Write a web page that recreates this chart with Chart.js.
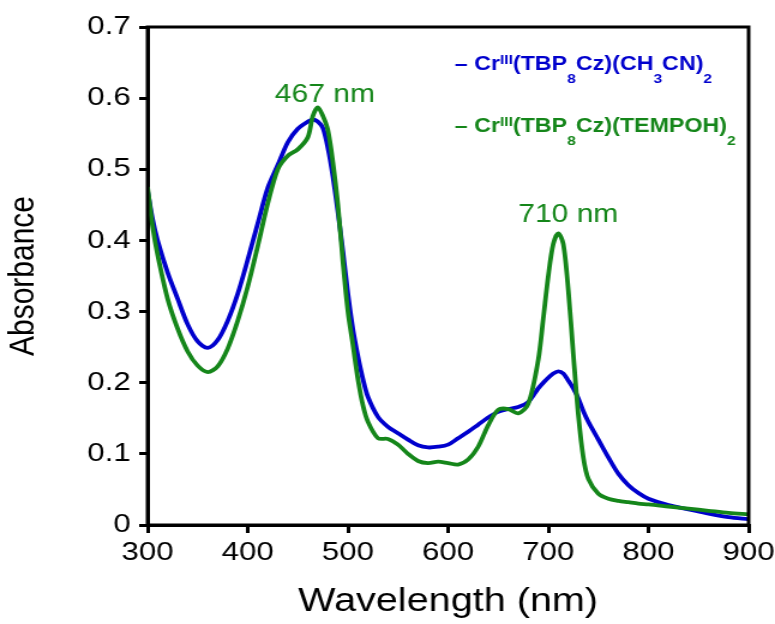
<!DOCTYPE html>
<html>
<head>
<meta charset="utf-8">
<script src="https://cdn.jsdelivr.net/npm/chart.js@4"></script>
<style>
  html, body { margin: 0; padding: 0; background: #fff; }
  /* the original figure is a bit wider than tall in its lettering, so the
     canvas is drawn narrower and stretched to the full width */
  #chart { width: 775px; height: 624px; display: block; }
</style>
</head>
<body>
<canvas id="chart" width="646" height="624" style="width:775px;height:624px"></canvas>
<script>
// wavelength (nm) shared by both spectra
const wavelength = [300, 305, 310, 320, 330, 340, 350, 360, 370, 380, 390, 400, 410, 420, 430, 440, 450, 460, 465, 470, 475, 480, 485, 490, 495, 500, 505, 510, 515, 520, 530, 540, 550, 560, 570, 580, 590, 600, 610, 620, 630, 640, 650, 660, 670, 680, 690, 695, 700, 705, 710, 715, 720, 725, 730, 735, 740, 750, 760, 770, 780, 790, 800, 820, 840, 860, 880, 900];

// Cr(III)(TBP8Cz)(CH3CN)2
const absCH3CN = [0.470, 0.430, 0.400, 0.355, 0.318, 0.282, 0.258, 0.249, 0.260, 0.287, 0.325, 0.373, 0.424, 0.474, 0.506, 0.538, 0.557, 0.567, 0.570, 0.567, 0.558, 0.530, 0.490, 0.440, 0.385, 0.325, 0.275, 0.237, 0.205, 0.180, 0.152, 0.138, 0.129, 0.120, 0.112, 0.109, 0.110, 0.113, 0.122, 0.131, 0.141, 0.151, 0.159, 0.163, 0.166, 0.173, 0.192, 0.200, 0.207, 0.213, 0.216, 0.213, 0.203, 0.192, 0.178, 0.160, 0.145, 0.120, 0.095, 0.072, 0.056, 0.045, 0.037, 0.028, 0.022, 0.016, 0.011, 0.008];

// Cr(III)(TBP8Cz)(TEMPOH)2
const absTEMPOH = [0.475, 0.420, 0.380, 0.318, 0.276, 0.244, 0.224, 0.215, 0.223, 0.248, 0.287, 0.335, 0.392, 0.452, 0.500, 0.519, 0.528, 0.545, 0.575, 0.587, 0.575, 0.555, 0.510, 0.450, 0.370, 0.300, 0.253, 0.205, 0.168, 0.145, 0.122, 0.121, 0.113, 0.100, 0.090, 0.087, 0.089, 0.087, 0.085, 0.092, 0.110, 0.140, 0.162, 0.163, 0.157, 0.170, 0.232, 0.290, 0.350, 0.395, 0.410, 0.395, 0.330, 0.240, 0.155, 0.095, 0.065, 0.044, 0.037, 0.034, 0.032, 0.030, 0.029, 0.026, 0.023, 0.020, 0.017, 0.015];

const yTicks = [0, 0.1, 0.2, 0.3, 0.4, 0.5, 0.6, 0.7];
const xTicks = [300, 400, 500, 600, 700, 800, 900];
const peakLabels = [{ x: 477, y: 0.595, text: "467 nm" }, { x: 720, y: 0.426, text: "710 nm" }];

const BLUE = "#0000cd";
const GREEN = "#15861a";
const FONT = "Arial, 'Liberation Sans', sans-serif";

const toPoints = (ys) => wavelength.map((w, i) => ({ x: w, y: ys[i] }));

// box around the plot area
const frame = {
  id: "frame",
  afterDraw(chart) {
    const { ctx, chartArea: a } = chart;
    ctx.save();
    ctx.strokeStyle = "#000";
    ctx.lineWidth = 3;
    ctx.strokeRect(a.left, a.top, a.right - a.left, a.bottom - a.top);
    ctx.restore();
  }
};

// peak labels + legend with sub/superscripts
const notes = {
  id: "notes",
  afterDatasetsDraw(chart) {
    const { ctx, scales } = chart;
    ctx.save();
    ctx.fillStyle = GREEN;
    ctx.font = "25px " + FONT;
    ctx.textAlign = "center";
    ctx.textBaseline = "alphabetic";
    for (let p of peakLabels) {
      ctx.fillText(p.text, scales.x.getPixelForValue(p.x), scales.y.getPixelForValue(p.y));
    }

    const rich = (x, y, parts, color) => {
      ctx.fillStyle = color;
      ctx.textAlign = "left";
      for (let s of parts) {
        const size = s[1] === 0 ? 19.4 : 13;
        const dy = s[1] === 0 ? 0 : (s[1] > 0 ? -6 : 13);
        ctx.font = "bold " + size + "px " + FONT;
        ctx.fillText(s[0], x, y + dy);
        x += ctx.measureText(s[0]).width;
      }
    };
    rich(379, 70, [["\u2013 Cr", 0], ["III", 1], ["(TBP", 0], ["8", -1], ["Cz)(CH", 0], ["3", -1], ["CN)", 0], ["2", -1]], BLUE);
    rich(379, 132, [["\u2013 Cr", 0], ["III", 1], ["(TBP", 0], ["8", -1], ["Cz)(TEMPOH)", 0], ["2", -1]], GREEN);
    ctx.restore();
  }
};

new Chart(document.getElementById("chart"), {
  type: "line",
  data: {
    datasets: [
      {
        label: "Cr(TBP8Cz)(TEMPOH)2",
        data: toPoints(absTEMPOH),
        borderColor: GREEN,
        borderWidth: 3.8,
        pointRadius: 0,
        tension: 0.3,
        order: 0
      },
      {
        label: "Cr(TBP8Cz)(CH3CN)2",
        data: toPoints(absCH3CN),
        borderColor: BLUE,
        borderWidth: 3.8,
        pointRadius: 0,
        tension: 0.3,
        order: 1
      }
    ]
  },
  options: {
    responsive: false,
    animation: false,
    layout: { padding: { top: 27, right: 22, left: 0, bottom: 0 } },
    plugins: { legend: { display: false }, tooltip: { enabled: false } },
    scales: {
      x: {
        type: "linear",
        min: 300,
        max: 900,
        afterBuildTicks: (s) => { s.ticks = xTicks.map((v) => ({ value: v })); },
        afterFit: (s) => { s.height = 99; s.paddingLeft = 0; s.paddingRight = 0; },
        grid: { drawOnChartArea: false, color: "#000", lineWidth: 3, tickLength: 8 },
        border: { color: "#000", width: 3 },
        ticks: { color: "#000", font: { family: FONT, size: 26 }, padding: 4, maxRotation: 0 },
        title: { display: true, text: "Wavelength (nm)", color: "#000", font: { family: FONT, size: 33 }, padding: { top: 0, bottom: 2 } }
      },
      y: {
        min: 0,
        max: 0.7,
        afterBuildTicks: (s) => { s.ticks = yTicks.map((v) => ({ value: v })); },
        afterFit: (s) => { s.width = 123; s.paddingTop = 0; s.paddingBottom = 0; },
        grid: { drawOnChartArea: false, color: "#000", lineWidth: 3, tickLength: 7 },
        border: { color: "#000", width: 3 },
        ticks: {
          color: "#000",
          font: { family: FONT, size: 26 },
          padding: 7,
          callback: (v) => (v === 0 ? "0" : v.toFixed(1))
        },
        title: { display: true, text: "Absorbance", color: "#000", font: { family: FONT, size: 30 }, padding: { top: 2, bottom: 10 } }
      }
    }
  },
  plugins: [frame, notes]
});
</script>
</body>
</html>
